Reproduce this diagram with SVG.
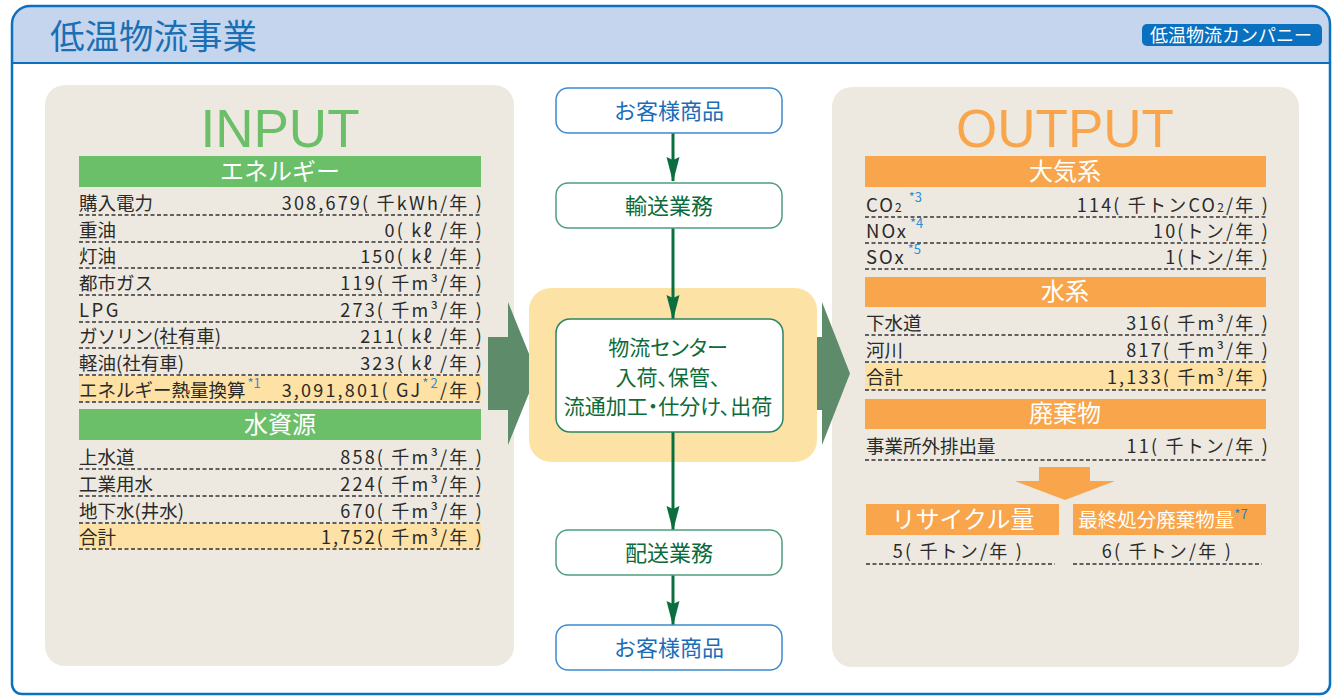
<svg xmlns="http://www.w3.org/2000/svg" width="1334" height="697" viewBox="0 0 1334 697">
<defs>
<style>
text{font-family:"Noto Sans CJK JP","Noto Sans CJK SC",sans-serif}
.lbl{font-size:18.5px;fill:#2a2a2a}
.val{font-size:18px;fill:#2a2a2a;text-anchor:end;letter-spacing:2.2px}
.sup{font-size:13px;fill:#2b8fd6}
.dash{stroke:#333;stroke-width:1.5;stroke-dasharray:4 2.5;fill:none}
.hdr{font-size:24px;fill:#fff;text-anchor:middle}
.hl{fill:#fde1a5}
.gbar{fill:#6bbf69}
.obar{fill:#f9a54b}
.panel{fill:#ede9e0}
.big{font-family:"Liberation Sans",Arial,sans-serif;font-size:53px;text-anchor:middle}
.bnode{fill:#fff;stroke:#3d8ad0;stroke-width:1.5}
.gnode{fill:#fff;stroke:#4e9e7c;stroke-width:1.5}
.btxt{font-size:22px;fill:#1b6db8;text-anchor:middle}
.gtxt{font-size:22px;fill:#0b6b3a;text-anchor:middle}
.ctxt{font-size:21px;fill:#0b6b3a;text-anchor:middle;font-feature-settings:"palt"}
.conn{stroke:#0a6e3e;stroke-width:3;fill:none}
.bigarrow{fill:#5e8c6b}
</style>
<marker id="ah" markerUnits="userSpaceOnUse" markerWidth="26" markerHeight="14" refX="24" refY="6.5" orient="auto">
<path d="M0,0 L25,6.5 L0,13 L3,6.5 Z" fill="#0a6e3e"/>
</marker>
</defs>

<!-- frame -->
<g id="frame">
<path d="M12,24 A18,18 0 0 1 30,6 H1312 A18,18 0 0 1 1330,24 V684 A10,10 0 0 1 1320,694 H22 A10,10 0 0 1 12,684 Z" fill="#fff"/>
<path d="M12,24 A18,18 0 0 1 30,6 H1312 A18,18 0 0 1 1330,24 V63 H12 Z" fill="#c6d5ee"/>
<line x1="12" y1="63" x2="1330" y2="63" stroke="#0a70c0" stroke-width="2"/>
<path d="M12,24 A18,18 0 0 1 30,6 H1312 A18,18 0 0 1 1330,24 V684 A10,10 0 0 1 1320,694 H22 A10,10 0 0 1 12,684 Z" fill="none" stroke="#0a70c0" stroke-width="2.5"/>
<text x="50" y="49" font-size="34.5" fill="#1a6fb5">低温物流事業</text>
<rect x="1142" y="24" width="180" height="22" rx="5" fill="#0a70c0"/>
<text x="1231" y="42" font-size="18" fill="#fff" text-anchor="middle">低温物流カンパニー</text>
</g>

<!-- INPUT panel -->
<g id="input">
<rect class="panel" x="45" y="85" width="469" height="581" rx="20"/>
<text class="big" x="280" y="147" fill="#6bbf69">INPUT</text>
<rect class="gbar" x="79" y="156" width="402" height="31"/>
<text class="hdr" x="280" y="180">エネルギー</text>
<rect class="hl" x="79" y="376" width="402" height="26"/>
<g>
<text class="lbl" x="79" y="210">購入電力</text><text class="val" x="484" y="210">308,679( 千kWh/年 )</text>
<text class="lbl" x="79" y="237">重油</text><text class="val" x="484" y="237">0( kℓ /年 )</text>
<text class="lbl" x="79" y="263">灯油</text><text class="val" x="484" y="263">150( kℓ /年 )</text>
<text class="lbl" x="79" y="290">都市ガス</text><text class="val" x="484" y="290">119( 千m³/年 )</text>
<text class="lbl" x="79" y="317" letter-spacing="2.5"> LPG</text><text class="val" x="484" y="317">273( 千m³/年 )</text>
<text class="lbl" x="79" y="343">ガソリン(社有車)</text><text class="val" x="484" y="343">211( kℓ /年 )</text>
<text class="lbl" x="79" y="370">軽油(社有車)</text><text class="val" x="484" y="370">323( kℓ /年 )</text>
<text class="lbl" x="79" y="397" font-size="16.5">エネルギー熱量換算<tspan class="sup" dx="2" dy="-9">*1</tspan></text>
<text class="val" x="484" y="397">3,091,801( GJ<tspan class="sup" dy="-9">*2</tspan><tspan dy="9">/年 )</tspan></text>
</g>
<g>
<line class="dash" x1="79" y1="215" x2="481" y2="215"/>
<line class="dash" x1="79" y1="242" x2="481" y2="242"/>
<line class="dash" x1="79" y1="268" x2="481" y2="268"/>
<line class="dash" x1="79" y1="295" x2="481" y2="295"/>
<line class="dash" x1="79" y1="322" x2="481" y2="322"/>
<line class="dash" x1="79" y1="348" x2="481" y2="348"/>
<line class="dash" x1="79" y1="375" x2="481" y2="375"/>
<line class="dash" x1="79" y1="402" x2="481" y2="402"/>
</g>
<rect class="gbar" x="79" y="409" width="402" height="31"/>
<text class="hdr" x="280" y="433">水資源</text>
<rect class="hl" x="79" y="523" width="402" height="26"/>
<g>
<text class="lbl" x="79" y="464">上水道</text><text class="val" x="484" y="464">858( 千m³/年 )</text>
<text class="lbl" x="79" y="491">工業用水</text><text class="val" x="484" y="491">224( 千m³/年 )</text>
<text class="lbl" x="79" y="518">地下水(井水)</text><text class="val" x="484" y="518">670( 千m³/年 )</text>
<text class="lbl" x="79" y="544">合計</text><text class="val" x="484" y="544">1,752( 千m³/年 )</text>
</g>
<g>
<line class="dash" x1="79" y1="469" x2="481" y2="469"/>
<line class="dash" x1="79" y1="496" x2="481" y2="496"/>
<line class="dash" x1="79" y1="523" x2="481" y2="523"/>
<line class="dash" x1="79" y1="549" x2="481" y2="549"/>
</g>
</g>

<!-- OUTPUT panel -->
<g id="output">
<rect class="panel" x="832" y="87" width="467" height="580" rx="20"/>
<text class="big" x="1065" y="147" fill="#f9a54b">OUTPUT</text>
<rect class="obar" x="865" y="156" width="401" height="31"/>
<text class="hdr" x="1065" y="180">大気系</text>
<g>
<text class="lbl" x="866" y="212" letter-spacing="2">CO<tspan font-size="12">2</tspan><tspan class="sup" dx="5" dy="-10" letter-spacing="0">*3</tspan></text>
<text class="val" x="1270" y="212">114( 千トンCO<tspan font-size="12">2</tspan>/年 )</text>
<text class="lbl" x="866" y="238" letter-spacing="2">NOx<tspan class="sup" dx="2" dy="-10" letter-spacing="0">*4</tspan></text>
<text class="val" x="1270" y="238">10(トン/年 )</text>
<text class="lbl" x="866" y="264" letter-spacing="2"> SOx<tspan class="sup" dx="2" dy="-10" letter-spacing="0">*5</tspan></text>
<text class="val" x="1270" y="264">1(トン/年 )</text>
</g>
<g>
<line class="dash" x1="865" y1="217" x2="1266" y2="217"/>
<line class="dash" x1="865" y1="243" x2="1266" y2="243"/>
<line class="dash" x1="865" y1="269" x2="1266" y2="269"/>
</g>
<rect class="obar" x="865" y="277" width="401" height="30"/>
<text class="hdr" x="1065" y="300">水系</text>
<rect class="hl" x="865" y="363" width="401" height="27"/>
<g>
<text class="lbl" x="866" y="330">下水道</text><text class="val" x="1270" y="330">316( 千m³/年 )</text>
<text class="lbl" x="866" y="357">河川</text><text class="val" x="1270" y="357">817( 千m³/年 )</text>
<text class="lbl" x="866" y="384">合計</text><text class="val" x="1270" y="384">1,133( 千m³/年 )</text>
</g>
<g>
<line class="dash" x1="865" y1="335" x2="1266" y2="335"/>
<line class="dash" x1="865" y1="362" x2="1266" y2="362"/>
<line class="dash" x1="865" y1="390" x2="1266" y2="390"/>
</g>
<rect class="obar" x="865" y="399" width="401" height="30"/>
<text class="hdr" x="1065" y="422">廃棄物</text>
<text class="lbl" x="866" y="453">事業所外排出量</text><text class="val" x="1270" y="453">11( 千トン/年 )</text>
<line class="dash" x1="865" y1="460" x2="1266" y2="460"/>
<polygon class="obar" points="1039,467 1090,467 1090,481 1115,481 1065,500 1015,481 1039,481"/>
<rect class="obar" x="866" y="504" width="193" height="31"/>
<text class="hdr" x="963" y="528">リサイクル量</text>
<rect class="obar" x="1073" y="504" width="193" height="31"/>
<text x="1163" y="527" font-size="19.5" fill="#fff" text-anchor="middle">最終処分廃棄物量<tspan font-size="13" fill="#2a7fc0" dy="-8">*7</tspan></text>
<text class="val" x="1024" y="558" letter-spacing="1.5">5( 千トン/年 )</text>
<text class="val" x="1233" y="558" letter-spacing="1.5">6( 千トン/年 )</text>
<line class="dash" x1="866" y1="564" x2="1055" y2="564"/>
<line class="dash" x1="1073" y1="564" x2="1262" y2="564"/>
</g>

<!-- big arrows -->
<g id="arrow-in"><polygon class="bigarrow" points="488,337 508,337 508,302 537,373.5 508,445 508,410 488,410"/></g>
<g id="arrow-out"><polygon class="bigarrow" points="802,337 822,337 822,302 850,373.5 822,445 822,410 802,410"/></g>

<!-- center background -->
<g id="center-bg"><rect x="529" y="288" width="288" height="174" rx="22" fill="#fde2a6"/></g>

<!-- connectors -->
<g id="connectors">
<line class="conn" x1="673" y1="133" x2="673" y2="181" marker-end="url(#ah)"/>
<line class="conn" x1="673" y1="228" x2="673" y2="319" marker-end="url(#ah)"/>
<line class="conn" x1="673" y1="432" x2="673" y2="530" marker-end="url(#ah)"/>
<line class="conn" x1="673" y1="575" x2="673" y2="625" marker-end="url(#ah)"/>
</g>

<g id="customer-in">
<rect class="bnode" x="556" y="88" width="226" height="45" rx="12"/>
<text class="btxt" x="669" y="119">お客様商品</text>
</g>
<g id="transport">
<rect class="gnode" x="556" y="183" width="226" height="45" rx="12"/>
<text class="gtxt" x="669" y="214">輸送業務</text>
</g>
<g id="center">
<rect x="556" y="319" width="227" height="113" rx="14" fill="#fff" stroke="#2c8560" stroke-width="1.5"/>
<text class="ctxt" x="668" y="355">物流センター</text>
<text class="ctxt" x="668" y="385">入荷、保管、</text>
<text class="ctxt" x="668" y="414">流通加工・仕分け、出荷</text>
</g>
<g id="delivery">
<rect class="gnode" x="556" y="530" width="226" height="45" rx="12"/>
<text class="gtxt" x="669" y="561">配送業務</text>
</g>
<g id="customer-out">
<rect class="bnode" x="556" y="625" width="226" height="45" rx="12"/>
<text class="btxt" x="669" y="656">お客様商品</text>
</g>
</svg>
